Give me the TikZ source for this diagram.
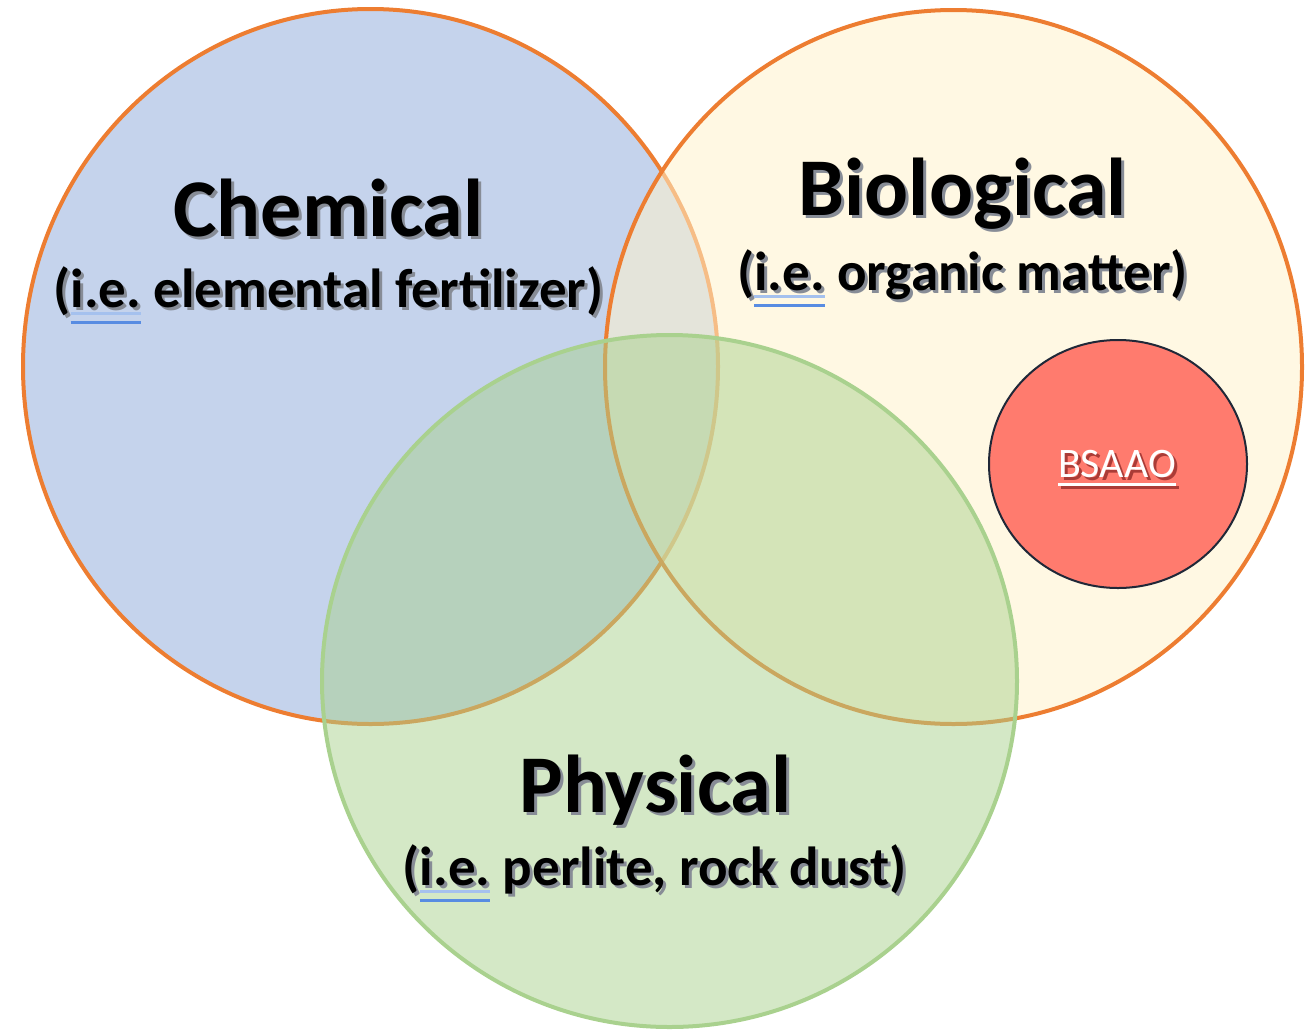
\documentclass[tikz,border=0pt]{standalone}
\usepackage{fontspec}
\setmainfont{Carlito}
\usetikzlibrary{shapes.geometric}
\frenchspacing
\definecolor{chemfill}{RGB}{197,211,236}
\definecolor{biofill}{RGB}{255,242,204}
\definecolor{physfill}{RGB}{169,209,142}
\definecolor{orangeline}{RGB}{237,125,49}
\definecolor{greenline}{RGB}{169,209,142}
\definecolor{bsfill}{RGB}{255,123,110}
\definecolor{bsline}{RGB}{32,40,56}
\definecolor{bsshadow}{RGB}{170,60,55}
\definecolor{ulA}{RGB}{165,193,238}
\definecolor{ulB}{RGB}{88,140,226}
\definecolor{txshadow}{RGB}{135,140,150}
\newcommand\ieul{\setbox0\hbox{i.e.}\rlap{\color{ulA}\rule[-7.5pt]{\wd0}{3pt}}\rlap{\color{ulB}\rule[-16.5pt]{\wd0}{3pt}}\box0}
\newcommand\ieplain{\hbox{i.e.}}
\newcommand\ulw[1]{\setbox0\hbox{#1}\rlap{\rule[-9pt]{\wd0}{3pt}}\box0}
% shadowed text: #1 shadow colour, #2 shadow text, #3 main text
\newcommand\shd[3][txshadow]{\rlap{\kern3pt\raisebox{-3pt}{\color{#1}#2}}#3}
\tikzset{
  venn/.style={ellipse, draw, line width=4pt, inner sep=0pt},
  titletxt/.style={font=\bfseries\fontsize{82}{90}\selectfont, inner sep=0pt, anchor=base},
  subtxt/.style={font=\bfseries\fontsize{55}{62}\selectfont, inner sep=0pt, anchor=base},
  bstxt/.style={font=\fontsize{42}{48}\selectfont, inner sep=0pt, anchor=base, text=white}
}
\begin{document}
\begin{tikzpicture}[x=1pt,y=-1pt]
\useasboundingbox (0,0) rectangle (1314,1031);
% circles
\node[venn, draw=orangeline, fill=chemfill, minimum width=695pt, minimum height=715pt] (chem) at (370.5,366.5) {};
\node[venn, draw=orangeline, fill=biofill, fill opacity=0.55, minimum width=697pt, minimum height=714pt] (bio) at (953.5,367) {};
\node[ellipse, draw=bsline, line width=2pt, fill=bsfill, inner sep=0pt, minimum width=258pt, minimum height=248pt] (bs) at (1118,464) {};
\node[venn, draw=greenline, fill=physfill, fill opacity=0.5, minimum width=695pt, minimum height=692pt] (phys) at (669.5,681) {};
% Chemical labels
\node[titletxt] (chemT) at (328.5,236) {\shd{Chemical}{Chemical}};
\node[subtxt] (chemS) at (328.5,307) {\shd{(\ieplain{} elemental fertilizer)}{(\ieul{} elemental fertilizer)}};
% Biological labels
\node[titletxt] (bioT) at (962.5,215) {\shd{Biological}{Biological}};
\node[subtxt] (bioS) at (962.5,290) {\shd{(\ieplain{} organic matter)}{(\ieul{} organic matter)}};
% Physical labels
\node[titletxt] (physT) at (655.5,812) {\shd{Physical}{Physical}};
\node[subtxt] (physS) at (654.5,885) {\shd{(\ieplain{} perlite, rock dust)}{(\ieul{} perlite, rock dust)}};
% BSAAO
\node[bstxt] (bsT) at (1117,477) {\shd[bsshadow]{\ulw{BSAAO}}{\ulw{BSAAO}}};
\end{tikzpicture}
\end{document}
